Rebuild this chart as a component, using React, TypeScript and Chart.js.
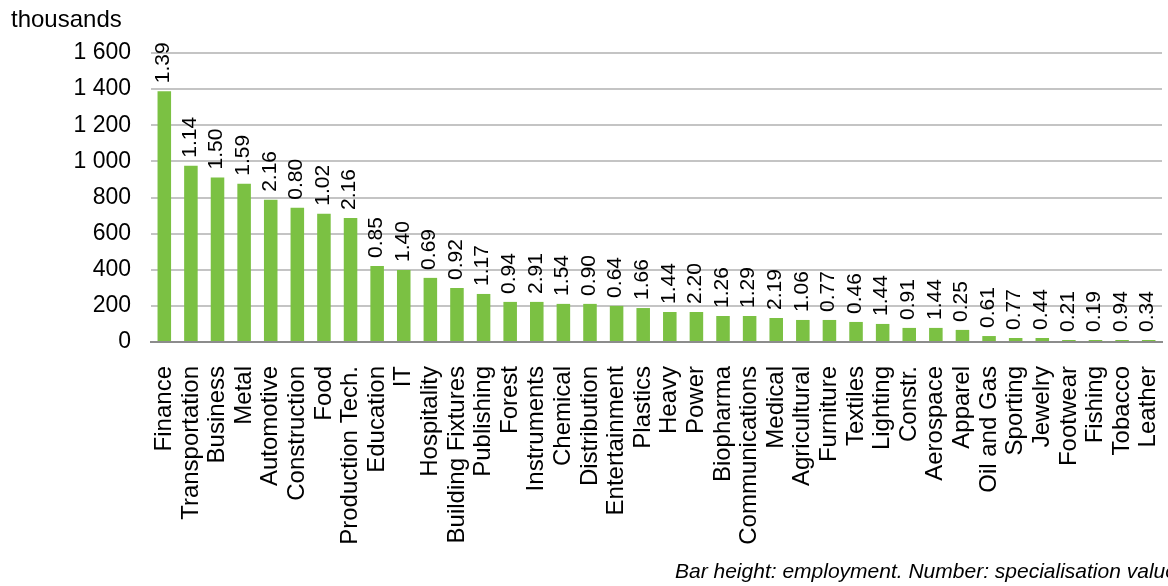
import React, { useEffect, useRef } from "react";
import { Chart, registerables } from "chart.js";

Chart.register(...registerables);

const categories: string[] = [
  "Finance", "Transportation", "Business", "Metal", "Automotive", "Construction", "Food",
  "Production Tech.", "Education", "IT", "Hospitality", "Building Fixtures", "Publishing",
  "Forest", "Instruments", "Chemical", "Distribution", "Entertainment", "Plastics", "Heavy",
  "Power", "Biopharma", "Communications", "Medical", "Agricultural", "Furniture", "Textiles",
  "Lighting", "Constr.", "Aerospace", "Apparel", "Oil and Gas", "Sporting", "Jewelry",
  "Footwear", "Fishing", "Tobacco", "Leather",
];

// employment, thousands
const employment: number[] = [
  1388, 976, 911, 876, 787, 743, 710, 687, 421, 399, 355, 299, 266,
  222, 222, 211, 211, 200, 188, 166, 166, 144, 144, 133, 122, 122, 111,
  100, 78, 78, 67, 33, 22, 22, 11, 11, 11, 11,
];

// specialisation values shown above the bars
const specialisation: string[] = [
  "1.39", "1.14", "1.50", "1.59", "2.16", "0.80", "1.02", "2.16", "0.85", "1.40", "0.69", "0.92", "1.17",
  "0.94", "2.91", "1.54", "0.90", "0.64", "1.66", "1.44", "2.20", "1.26", "1.29", "2.19", "1.06", "0.77",
  "0.46", "1.44", "0.91", "1.44", "0.25", "0.61", "0.77", "0.44", "0.21", "0.19", "0.94", "0.34",
];

const yTicks: number[] = [0, 200, 400, 600, 800, 1000, 1200, 1400, 1600];

const unitLabel = "thousands";
const footnote = "Bar height: employment. Number: specialisation value";

const FONT = '"Liberation Sans", Arial, sans-serif';

function formatThousands(v: number): string {
  if (v >= 1000) {
    const hi = Math.floor(v / 1000);
    const lo = String(v % 1000).padStart(3, "0");
    return `${hi} ${lo}`;
  }
  return String(v);
}

const textPlugin = {
  id: "extraText",
  afterDatasetsDraw(chart: any) {
    const { ctx } = chart;
    const meta = chart.getDatasetMeta(0);
    ctx.save();
    ctx.fillStyle = "#000";
    ctx.font = `21px ${FONT}`;
    ctx.textAlign = "left";
    ctx.textBaseline = "middle";
    meta.data.forEach((bar: any, i: number) => {
      ctx.save();
      ctx.translate(bar.x - 1, bar.y - 8);
      ctx.rotate(-Math.PI / 2);
      ctx.fillText(specialisation[i], 0, 0);
      ctx.restore();
    });
    ctx.restore();
  },
  afterDraw(chart: any) {
    const { ctx } = chart;
    ctx.save();
    ctx.fillStyle = "#000";
    ctx.textBaseline = "alphabetic";
    ctx.textAlign = "left";
    ctx.font = `24px ${FONT}`;
    ctx.fillText(unitLabel, 11, 27);
    ctx.font = `italic 21px ${FONT}`;
    ctx.fillText(footnote, 675, 578);
    ctx.restore();
  },
};

export default function App() {
  const canvasRef = useRef<HTMLCanvasElement | null>(null);

  useEffect(() => {
    if (!canvasRef.current) return;
    const chart = new Chart(canvasRef.current, {
      type: "bar",
      data: {
        labels: categories,
        datasets: [
          {
            data: employment,
            backgroundColor: "#7BC143",
            borderWidth: 0,
            barPercentage: 0.53,
            categoryPercentage: 0.96,
          },
        ],
      },
      options: {
        responsive: false,
        animation: false,
        events: [],
        layout: { padding: { top: 53, left: 0, right: 6, bottom: 0 } },
        plugins: {
          legend: { display: false },
          tooltip: { enabled: false },
          title: { display: false },
        },
        scales: {
          x: {
            grid: { display: false, drawTicks: false },
            border: { display: true, color: "#8C8C8C", width: 2 },
            ticks: {
              autoSkip: false,
              maxRotation: 90,
              minRotation: 90,
              color: "#000",
              padding: 24,
              font: { family: FONT, size: 24 },
            },
            afterFit: (s: any) => {
              s.height = 244;
              s.paddingLeft = 0;
              s.paddingRight = 0;
            },
          },
          y: {
            min: 0,
            max: 1600,
            afterBuildTicks: (s: any) => {
              s.ticks = yTicks.map((v) => ({ value: v }));
            },
            grid: { color: "#C4C4C4", lineWidth: 2, drawTicks: false },
            border: { display: false },
            ticks: {
              color: "#000",
              padding: 20,
              font: { family: FONT, size: 23 },
              callback: (v: any) => formatThousands(Number(v)),
            },
            afterFit: (s: any) => {
              s.width = 151;
            },
          },
        },
      },
      plugins: [textPlugin],
    });
    return () => chart.destroy();
  }, []);

  return (
    <div style={{ position: "fixed", left: 0, top: 0, width: 1168, height: 586, background: "#fff" }}>
      <canvas ref={canvasRef} width={1168} height={586} style={{ display: "block" }} />
    </div>
  );
}
